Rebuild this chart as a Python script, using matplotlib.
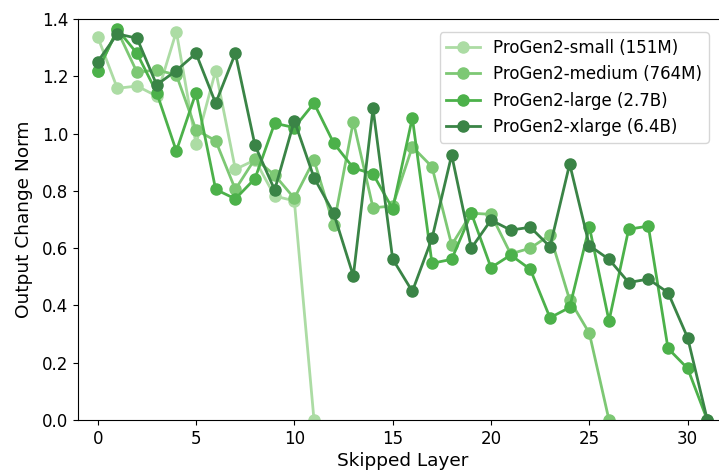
import matplotlib
matplotlib.use("Agg")
import matplotlib.pyplot as plt
import numpy as np

plt.rcParams['font.size'] = 12

# output change norm per skipped layer
small = [1.338, 1.158, 1.166, 1.131, 1.356, 0.963, 1.22, 0.875, 0.908, 0.782, 0.765, 0.0]
medium = [1.22, 1.36, 1.214, 1.222, 1.205, 1.013, 0.975, 0.805, 0.912, 0.855, 0.774, 0.908,
          0.68, 1.042, 0.741, 0.747, 0.954, 0.884, 0.611, 0.722, 0.718, 0.58, 0.6, 0.646,
          0.419, 0.303, 0.0]
large = [1.218, 1.364, 1.28, 1.143, 0.939, 1.143, 0.805, 0.772, 0.843, 1.036, 1.021, 1.106,
         0.967, 0.88, 0.859, 0.737, 1.055, 0.547, 0.561, 0.722, 0.532, 0.576, 0.526, 0.357,
         0.393, 0.675, 0.346, 0.666, 0.677, 0.25, 0.18, 0.0]
xlarge = [1.251, 1.348, 1.333, 1.17, 1.22, 1.28, 1.106, 1.28, 0.959, 0.803, 1.045, 0.846,
          0.722, 0.503, 1.088, 0.562, 0.449, 0.634, 0.925, 0.6, 0.698, 0.663, 0.673, 0.605,
          0.894, 0.609, 0.561, 0.48, 0.492, 0.445, 0.287, 0.0]

labels = ["ProGen2-small (151M)", "ProGen2-medium (764M)",
          "ProGen2-large (2.7B)", "ProGen2-xlarge (6.4B)"]
colors = ["#acdca4", "#7dc874", "#4cb14a", "#3a8446"]

fig = plt.figure(figsize=(7.19, 4.76), dpi=100)
ax = fig.add_axes([78/719, 1 - 420/476, 649/719, 401/476])

for ys, lab, c in zip([small, medium, large, xlarge], labels, colors):
    ax.plot(np.arange(len(ys)), ys, marker='o', color=c, lw=2, ms=8, label=lab)

ax.set_xlim(-1, 32)
ax.set_ylim(0, 1.4)
ax.set_xticks([0, 5, 10, 15, 20, 25, 30])
ax.set_xlabel("Skipped Layer", fontsize=13.3, labelpad=3)
ax.set_ylabel("Output Change Norm", fontsize=13.3, labelpad=6)
ax.legend(loc='upper right', bbox_to_anchor=(717/719, 1 - 24/476),
          bbox_transform=fig.transFigure)

fig.savefig("out.png", dpi=100)
